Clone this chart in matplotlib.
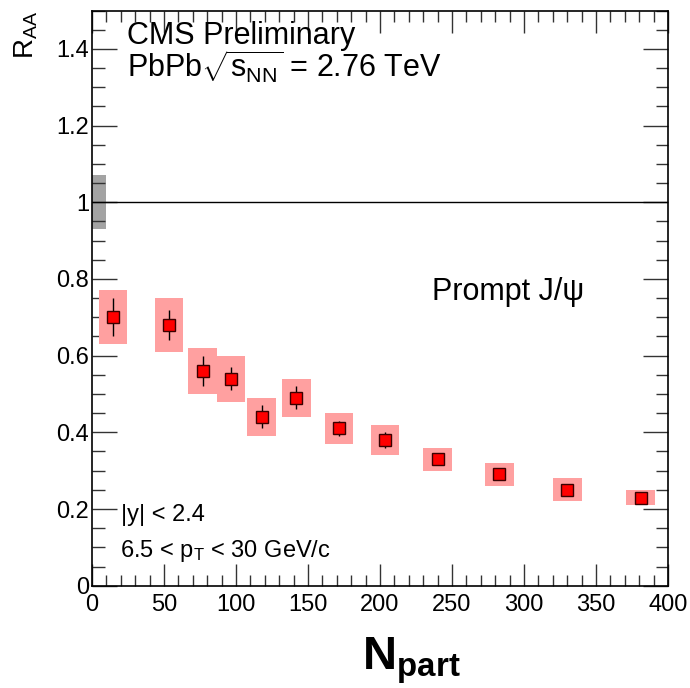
import numpy as np
import matplotlib
matplotlib.use("Agg")
import matplotlib.pyplot as plt
from matplotlib.ticker import MultipleLocator

plt.rcParams['font.family'] = ['Liberation Sans', 'DejaVu Sans']
plt.rcParams['mathtext.fontset'] = 'custom'
plt.rcParams['mathtext.rm'] = 'Liberation Sans'
plt.rcParams['mathtext.it'] = 'Liberation Sans:italic'
plt.rcParams['mathtext.bf'] = 'Liberation Sans:bold'

# prompt J/psi R_AA vs centrality
npart = [14.6, 53.5, 77, 96.5, 118, 142, 171.5, 203.5, 240, 283, 330, 381]
raa = [0.70, 0.68, 0.56, 0.54, 0.44, 0.49, 0.41, 0.38, 0.33, 0.29, 0.25, 0.23]
stat = [0.05, 0.04, 0.04, 0.03, 0.03, 0.03, 0.02, 0.02, 0.01, 0.01, 0.01, 0.01]
syst = [0.07, 0.07, 0.06, 0.06, 0.05, 0.05, 0.04, 0.04, 0.03, 0.03, 0.03, 0.02]
glob_unc = 0.07

npart = np.array(npart)
raa = np.array(raa)
stat = np.array(stat)
syst = np.array(syst)

fig = plt.figure(figsize=(6.9, 6.88), dpi=100)
ax = fig.add_axes([0.1333, 0.1487, 0.8347, 0.836])

# global uncertainty box at unity
ax.bar(5, 2 * glob_unc, width=10, bottom=1 - glob_unc, color='#a3a3a3', zorder=1)
ax.axhline(1, color='black', lw=1.0, zorder=2)

# systematic boxes
ax.bar(npart, 2 * syst, width=20, bottom=raa - syst, color='#ffa0a0', zorder=2)
ax.errorbar(npart, raa, yerr=stat, fmt='s', ms=8.5, mfc='#ff0000', mec='#3a0000',
            mew=1.0, ecolor='black', elinewidth=1.0, capsize=0, zorder=3)

ax.set_xlim(0, 400)
ax.set_ylim(0, 1.5)
ax.xaxis.set_major_locator(MultipleLocator(50))
ax.xaxis.set_minor_locator(MultipleLocator(10))
ax.yaxis.set_minor_locator(MultipleLocator(0.05))
ax.set_yticks(np.arange(0, 1.41, 0.2))
ax.set_yticklabels(['0', '0.2', '0.4', '0.6', '0.8', '1', '1.2', '1.4'])
ax.tick_params(which='both', direction='in', top=True, right=True,
               labelsize=17, width=1.0, color='#333333')
ax.tick_params(which='major', length=16)
ax.tick_params(which='minor', length=8)
ax.tick_params(axis='y', which='major', length=18, pad=2)
ax.tick_params(axis='y', which='minor', length=9)
ax.tick_params(axis='x', which='major', pad=6)
for s in ax.spines.values():
    s.set_linewidth(1.2)

ax.set_xlabel(r'N$_{\mathbf{part}}$', fontsize=34, fontweight='bold', x=0.555, labelpad=14)
ax.set_ylabel(r'R$_{\mathrm{AA}}$', fontsize=20, y=1.0, ha='right', labelpad=12)

ax.text(0.061, 0.942, 'CMS Preliminary', transform=ax.transAxes, fontsize=22, va='baseline')
ax.text(0.061, 0.883, r'PbPb$\sqrt{\mathrm{s}_{\mathrm{NN}}}$ = 2.76 TeV', transform=ax.transAxes,
        fontsize=22, va='baseline')
ax.text(0.59, 0.496, r'Prompt J/ψ', transform=ax.transAxes, fontsize=22, va='baseline')
ax.text(0.050, 0.113, '|y| < 2.4', transform=ax.transAxes, fontsize=17, va='baseline')
ax.text(0.0486, 0.0504, r'6.5 < p$_{\mathrm{T}}$ < 30 GeV/c', transform=ax.transAxes,
        fontsize=17, va='baseline')

fig.savefig('out.png', dpi=100)
